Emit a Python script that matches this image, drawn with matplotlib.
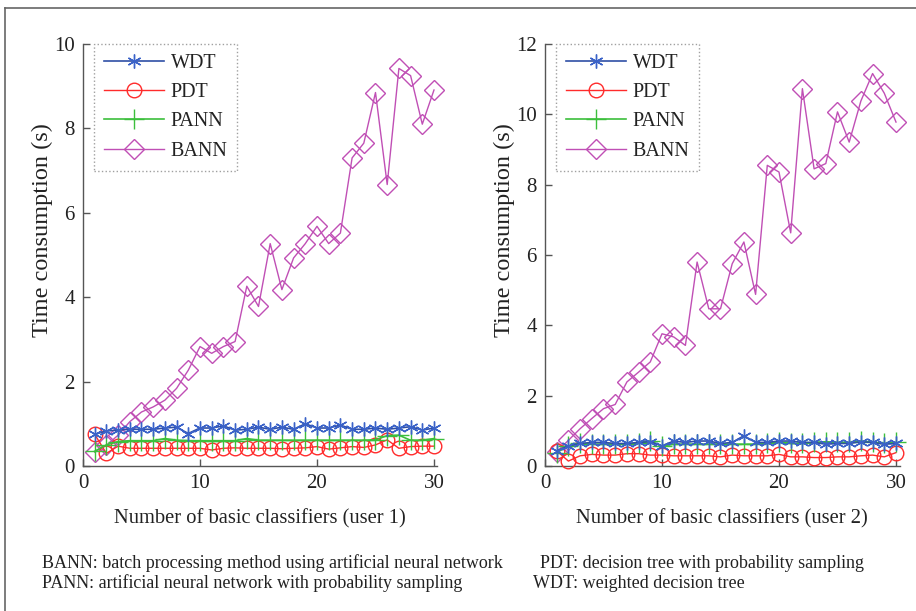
import matplotlib.pyplot as plt
from matplotlib.lines import Line2D

plt.rcParams["font.family"] = ["Liberation Serif", "DejaVu Serif"]

# number of basic classifiers
n_clf = list(range(1, 31))

# user 1 timings (s)
wdt_u1 = [0.75, 0.83, 0.85, 0.87, 0.87, 0.87, 0.90, 0.92, 0.77, 0.90,
          0.90, 0.95, 0.85, 0.87, 0.92, 0.87, 0.92, 0.87, 1.00, 0.90,
          0.90, 0.97, 0.87, 0.87, 0.90, 0.87, 0.90, 0.93, 0.85, 0.90]
pdt_u1 = [0.75, 0.30, 0.47, 0.42, 0.42, 0.42, 0.42, 0.42, 0.42, 0.42,
          0.38, 0.42, 0.43, 0.42, 0.42, 0.42, 0.41, 0.42, 0.43, 0.46,
          0.40, 0.43, 0.46, 0.44, 0.50, 0.62, 0.42, 0.46, 0.47, 0.47]
pann_u1 = [0.35, 0.50, 0.58, 0.60, 0.60, 0.60, 0.65, 0.61, 0.60, 0.60,
           0.60, 0.60, 0.60, 0.65, 0.61, 0.61, 0.61, 0.61, 0.61, 0.61,
           0.61, 0.61, 0.61, 0.61, 0.62, 0.72, 0.73, 0.61, 0.61, 0.65]
bann_u1 = [0.33, 0.49, 0.73, 1.05, 1.28, 1.40, 1.56, 1.84, 2.27, 2.83,
           2.67, 2.83, 2.95, 4.26, 3.78, 5.27, 4.18, 4.93, 5.27, 5.68,
           5.27, 5.52, 7.30, 7.65, 8.85, 6.67, 9.42, 9.25, 8.10, 8.91]

# user 2 timings (s)
wdt_u2 = [0.43, 0.57, 0.64, 0.67, 0.67, 0.64, 0.64, 0.67, 0.69, 0.57,
          0.71, 0.67, 0.71, 0.71, 0.64, 0.67, 0.86, 0.67, 0.67, 0.71,
          0.71, 0.67, 0.67, 0.62, 0.64, 0.64, 0.69, 0.67, 0.62, 0.64]
pdt_u2 = [0.43, 0.14, 0.29, 0.33, 0.31, 0.31, 0.35, 0.35, 0.31, 0.31,
          0.29, 0.29, 0.29, 0.29, 0.26, 0.31, 0.29, 0.29, 0.29, 0.33,
          0.26, 0.26, 0.24, 0.24, 0.26, 0.26, 0.29, 0.31, 0.26, 0.38]
pann_u2 = [0.38, 0.57, 0.64, 0.62, 0.62, 0.62, 0.62, 0.64, 0.71, 0.57,
           0.62, 0.62, 0.62, 0.62, 0.62, 0.62, 0.62, 0.62, 0.64, 0.67,
           0.64, 0.64, 0.67, 0.69, 0.67, 0.67, 0.71, 0.67, 0.64, 0.67]
bann_u2 = [0.40, 0.73, 1.06, 1.35, 1.63, 1.75, 2.39, 2.67, 2.96, 3.76,
           3.67, 3.43, 5.80, 4.47, 4.47, 5.75, 6.37, 4.88, 8.55, 8.36,
           6.63, 10.73, 8.45, 8.60, 10.07, 9.21, 10.38, 11.16, 10.60, 9.78]

users = [
    ("Number of basic classifiers (user 1)", 10, wdt_u1, pdt_u1, pann_u1, bann_u1),
    ("Number of basic classifiers (user 2)", 12, wdt_u2, pdt_u2, pann_u2, bann_u2),
]

C_WDT = "#2f4fa6"
C_PDT = "#ff2b2b"
C_PANN = "#3cbf3c"
C_BANN = "#c04fb5"
SPINE = "#555555"
ASTER = (6, 2, 0)

fig = plt.figure(figsize=(9.16, 6.11), dpi=100)

# outer frame (top and left edges visible)
fig.add_artist(Line2D([0.005, 0.005], [0, 0.987], transform=fig.transFigure,
                      color="#666666", lw=1.2))
fig.add_artist(Line2D([0.005, 1.0], [0.987, 0.987], transform=fig.transFigure,
                      color="#666666", lw=1.2))

lefts = [83 / 916, 545 / 916]
for (xlabel, ymax, wdt, pdt, pann, bann), left in zip(users, lefts):
    ax = fig.add_axes([left, 145 / 611, 354.5 / 916, 422 / 611])
    ax.plot(n_clf, wdt, color=C_WDT, lw=1.2, marker=ASTER, ms=10,
            mec="#3a62c8", mew=1.0, label="WDT", zorder=4, clip_on=False)
    ax.plot(n_clf, pdt, color=C_PDT, lw=1.0, marker="o", ms=10.5,
            mfc="none", mec=C_PDT, mew=1.0, label="PDT", zorder=3, clip_on=False)
    ax.plot(n_clf, pann, color=C_PANN, lw=1.2, marker="+", ms=14,
            mew=1.0, label="PANN", zorder=3, clip_on=False)
    ax.plot(n_clf, bann, color=C_BANN, lw=1.0, marker="D", ms=10.5,
            mfc="none", mec=C_BANN, mew=1.0, label="BANN", zorder=2, clip_on=False)

    ax.set_xlim(0, 30.3)
    ax.set_ylim(0, ymax)
    ax.set_xticks([0, 10, 20, 30])
    ax.set_yticks(range(0, ymax + 1, 2))
    for s in ("top", "right"):
        ax.spines[s].set_visible(False)
    for s in ("left", "bottom"):
        ax.spines[s].set_color(SPINE)
        ax.spines[s].set_linewidth(1.0)
    ax.tick_params(direction="in", length=5, width=1.0, color=SPINE,
                   labelsize=15, labelcolor="#222222", pad=6)
    ax.set_xlabel(xlabel, fontsize=14.8, color="#222222", labelpad=11)
    ax.set_ylabel("Time consumption (s)", fontsize=17.5, color="#222222",
                  va="center")
    ax.yaxis.set_label_coords(-0.115, 0.56)

    leg = ax.legend(loc="upper left", bbox_to_anchor=(0.031, 1.0), borderaxespad=0,
                    fontsize=14.5, frameon=True, fancybox=False, handlelength=3.0,
                    handletextpad=0.3, labelspacing=0.5, borderpad=0.5)
    frame = leg.get_frame()
    frame.set_edgecolor("#888888")
    frame.set_linestyle(":")
    frame.set_linewidth(1.0)
    for t in leg.get_texts():
        t.set_color("#222222")

cap = dict(fontsize=13, color="#222222", va="center", ha="left")
fig.text(42 / 916, 1 - 563 / 611, "BANN: batch processing method using artificial neural network", **cap)
fig.text(42 / 916, 1 - 583 / 611, "PANN: artificial neural network with probability sampling", **cap)
fig.text(540 / 916, 1 - 563 / 611, "PDT: decision tree with probability sampling", **cap)
fig.text(533 / 916, 1 - 583 / 611, "WDT: weighted decision tree", **cap)

fig.savefig("out.png", dpi=100)
